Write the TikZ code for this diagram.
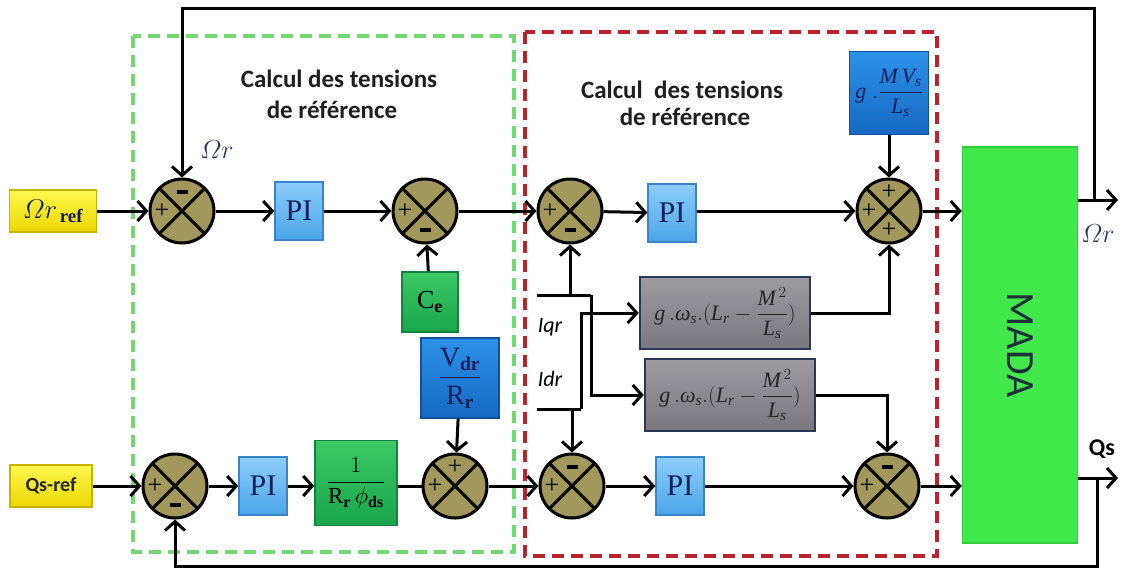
\documentclass[tikz,border=0pt]{standalone}
\usepackage{fix-cm}
\usepackage{amsmath}
\usepackage{fontspec}
\setmainfont{Liberation Serif}
\newfontfamily\carl{Carlito}
\usetikzlibrary{arrows.meta}
\definecolor{yelT}{RGB}{255,248,80}
\definecolor{yelB}{RGB}{235,215,0}
\definecolor{yelD}{RGB}{200,180,0}
\definecolor{piT}{RGB}{140,205,250}
\definecolor{piB}{RGB}{75,165,232}
\definecolor{piD}{RGB}{60,130,200}
\definecolor{grT}{RGB}{60,200,100}
\definecolor{grB}{RGB}{25,165,75}
\definecolor{grD}{RGB}{20,130,60}
\definecolor{blT}{RGB}{45,145,232}
\definecolor{blB}{RGB}{22,105,195}
\definecolor{blD}{RGB}{15,80,160}
\definecolor{gyT}{RGB}{155,155,160}
\definecolor{gyB}{RGB}{120,120,126}
\definecolor{gyD}{RGB}{45,55,85}
\definecolor{madaG}{RGB}{65,232,75}
\definecolor{madaD}{RGB}{50,205,60}
\definecolor{olv}{RGB}{162,152,92}
\definecolor{navy}{RGB}{20,30,90}
\definecolor{slate}{RGB}{45,55,85}
\definecolor{dgreen}{RGB}{115,215,115}
\definecolor{dred}{RGB}{185,35,45}
\newcommand{\mns}{\rule{11pt}{3.5pt}}
\newcommand{\ti}[1]{\textit{#1}}
\newcommand{\gwform}{$\ti{g}\,.\ti{ω}_{\ti{s}}.(\ti{L}_{\ti{r}}-\dfrac{\ti{M}^{\,2}}{\ti{L}_{\ti{s}}})$}
\tikzset{
  ln/.style={line width=3pt},
  arr/.style={line width=3pt,-{Straight Barb[length=9pt,width=20pt]}},
  sum/.style={circle, draw, line width=3pt, fill=olv, minimum size=64pt, inner sep=0pt,
    path picture={\draw[line width=3pt] (path picture bounding box.north west)--(path picture bounding box.south east)
      (path picture bounding box.north east)--(path picture bounding box.south west);}},
  sgn/.style={inner sep=0pt, font=\fontsize{26}{26}\selectfont},
  blk/.style={rectangle, line width=1.5pt, inner sep=0pt},
  yelbox/.style={blk, draw=yelD, top color=yelT, bottom color=yelB},
  pibox/.style={blk, draw=piD, top color=piT, bottom color=piB, minimum width=48pt, minimum height=58pt,
    text=navy, font=\fontsize{30}{30}\selectfont},
  grbox/.style={blk, draw=grD, top color=grT, bottom color=grB},
  blbox/.style={blk, draw=blD, top color=blT, bottom color=blB, text=navy},
  gybox/.style={blk, draw=gyD, line width=2.5pt, top color=gyT, bottom color=gyB, minimum width=170pt, minimum height=72pt,
    text=black!85, font=\fontsize{22}{22}\selectfont},
  ttl/.style={anchor=base, inner sep=0pt, text=black!88, font=\carl\bfseries\fontsize{25}{25}\selectfont},
  lbl/.style={inner sep=0pt, font=\carl\itshape\fontsize{22}{22}\selectfont},
}
\begin{document}
\begin{tikzpicture}[x=1pt,y=-1pt]
\useasboundingbox[fill=white] (0,0) rectangle (1134,571);

% dashed frames
\draw[dgreen, line width=4pt, dash pattern=on 12pt off 7pt] (133,36) rectangle (514,552);
\draw[dred, line width=4pt, dash pattern=on 12pt off 7pt] (525,32) rectangle (937,556);

% titles
\node[ttl] (t1a) at (339,87) {Calcul des tensions};
\node[ttl] (t1b) at (332,118) {de référence};
\node[ttl] (t2a) at (682,98) {Calcul\ \ des tensions};
\node[ttl] (t2b) at (685,125) {de référence};

% top row
\node[yelbox, minimum width=87pt, minimum height=42pt, text=navy, font=\fontsize{27}{27}\selectfont] (oref) at (53,211) {$\varOmega r_{\,\textbf{ref}}$};
\node[sum] (s1) at (182,211) {};
\node[sgn] (s1a) at ([xshift=-20pt]s1.center) {+};
\node[sgn] (s1b) at ([yshift=19pt]s1.center) {\mns};
\node[pibox] (pi1) at (299,211) {PI};
\node[sum] (s2) at (425,211) {};
\node[sgn] (s2a) at ([xshift=-20pt]s2.center) {+};
\node[sgn] (s2b) at ([yshift=-19pt]s2.center) {\mns};
\node[grbox, minimum width=56pt, minimum height=60pt, font=\fontsize{26}{26}\selectfont] (ce) at (430,302) {C$_{\textbf{e}}$};
\node[blbox, minimum width=78pt, minimum height=80pt, font=\fontsize{28}{28}\selectfont] (vdr) at (460,378) {$\dfrac{\mathrm{V}_{\textbf{dr}}}{\mathrm{R}_{\textbf{r}}}$};
\node[sum] (s5) at (570,211) {};
\node[sgn] (s5a) at ([xshift=-20pt]s5.center) {+};
\node[sgn] (s5b) at ([yshift=-19pt]s5.center) {\mns};
\node[pibox] (pi3) at (672,213) {PI};
\node[blbox, minimum width=79pt, minimum height=83pt, font=\fontsize{22}{22}\selectfont] (gm) at (889,93) {$\ti{g}\;.\dfrac{\ti{M\,V}_{\ti{s}}}{\ti{L}_{\ti{s}}}$};
\node[sum] (s6) at (889,211) {};
\node[sgn] (s6a) at ([xshift=-20pt]s6.center) {+};
\node[sgn] (s6b) at ([yshift=19pt]s6.center) {+};
\node[sgn] (s6c) at ([yshift=-19pt]s6.center) {+};
\node[rectangle, draw=madaD, line width=1.5pt, fill=madaG, minimum width=115pt, minimum height=396pt] (mada) at (1020,345) {};
\node[rotate=-90, text={rgb,255:red,30;green,45;blue,60}, font=\carl\fontsize{40}{40}\selectfont] (madat) at (1020,345) {MADA};

% middle
\node[gybox] (g1) at (725,313) {\gwform};
\node[gybox] (g2) at (730,395) {\gwform};
\node[lbl] (iqr) at (550,327) {Iqr};
\node[lbl] (idr) at (550,379) {Idr};

% bottom row
\node[yelbox, minimum width=82pt, minimum height=42pt, font=\carl\bfseries\fontsize{20}{20}\selectfont, text=black!85] (qref) at (51,486) {Qs-ref};
\node[sum] (s3) at (175,486) {};
\node[sgn] (s3a) at ([xshift=-20pt]s3.center) {+};
\node[sgn] (s3b) at ([yshift=-19pt]s3.center) {\mns};
\node[pibox] (pi2) at (263,486) {PI};
\node[grbox, minimum width=82pt, minimum height=85pt, font=\fontsize{23}{23}\selectfont] (rphi) at (356,483) {$\dfrac{1}{\mathrm{R}_{\textbf{r}}\,\phi_{\textbf{ds}}}$};
\node[sum] (s4) at (455,486) {};
\node[sgn] (s4a) at ([xshift=-20pt]s4.center) {+};
\node[sgn] (s4b) at ([yshift=19pt]s4.center) {+};
\node[sum] (s8) at (572,486) {};
\node[sgn] (s8a) at ([xshift=-20pt]s8.center) {+};
\node[sgn] (s8b) at ([yshift=19pt]s8.center) {\mns};
\node[pibox] (pi4) at (680,486) {PI};
\node[sum] (s7) at (887,486) {};
\node[sgn] (s7a) at ([xshift=-20pt]s7.center) {+};
\node[sgn] (s7b) at ([yshift=19pt]s7.center) {\mns};

% outputs labels
\node[text=slate, font=\fontsize{26}{26}\selectfont] (lom) at (217,150) {$\varOmega r$};
\node[text=slate, font=\fontsize{26}{26}\selectfont] (lom2) at (1098,234) {$\varOmega r$};
\node[font=\carl\bfseries\fontsize{24}{24}\selectfont] (lqs) at (1102,449) {Qs};

% coordinates
\coordinate (out1) at (1118,200);
\coordinate (j1) at (1094,200);
\coordinate (top1) at (1094,8);
\coordinate (out2) at (1118,478);
\coordinate (j2) at (1097,478);
\coordinate (bot2) at (1097,566);
\coordinate (iq0) at (537,295);
\coordinate (iqj) at (570,295);
\coordinate (iq1) at (591,295);
\coordinate (id0) at (537,409);
\coordinate (idj) at (572,409);
\coordinate (id1) at (581,409);

% top row connectors
\draw[arr] (oref) -- (s1);
\draw[arr] (s1) -- (pi1);
\draw[arr] (pi1) -- (s2);
\draw[arr] (ce) -- (s2);
\draw[arr] (s2) -- (s5);
\draw[arr] (s5) -- (pi3);
\draw[arr] (pi3.east |- s6) -- (s6);
\draw[arr] (gm) -- (s6);
\draw[arr] (s6) -- (s6 -| mada.west);
\draw[arr] (mada.east |- out1) -- (out1);
\draw[arr] (j1) -- (top1) -| (s1.north);

% bottom row connectors
\draw[arr] (qref) -- (s3);
\draw[arr] (s3) -- (pi2);
\draw[arr] (pi2) -- (rphi.west |- pi2);
\draw[ln] (rphi.east |- s4) -- (s4);
\draw[arr] (vdr) -- (s4);
\draw[arr] (s4) -- (s8);
\draw[arr] (s8) -- (pi4);
\draw[arr] (pi4) -- (s7);
\draw[arr] (s7) -- (s7 -| mada.west);
\draw[arr] (mada.east |- out2) -- (out2);
\draw[arr] (j2) -- (bot2) -| (s3.south);

% current branches
\draw[ln] (iq0) -- (iq1);
\draw[arr] (iqj) -- (s5.south);
\draw[arr] (iq1) |- (g2.west);
\draw[ln] (id0) -- (id1);
\draw[arr] (idj) -- (s8.north);
\draw[arr] (id1) |- (g1.west);
\draw[arr] (g1.east) -| (s6.south);
\draw[arr] (g2.east) -| (s7.north);
\end{tikzpicture}
\end{document}
